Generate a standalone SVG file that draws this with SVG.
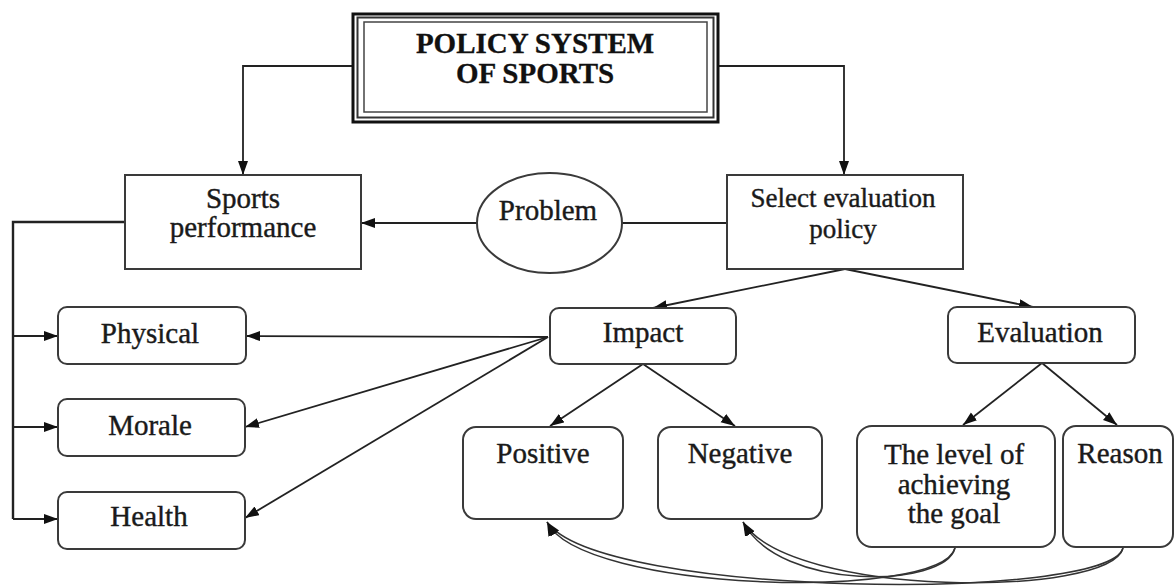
<svg xmlns="http://www.w3.org/2000/svg" width="1175" height="587" viewBox="0 0 1175 587">
<defs>
<marker id="ah" markerWidth="15" markerHeight="11" refX="14" refY="5" orient="auto" markerUnits="userSpaceOnUse">
<path d="M0,0 L14,5 L0,10 z" fill="#111"/>
</marker>
<style>
.box{fill:#fff;stroke:#3a3a3a;stroke-width:2}
.t{font-family:"Liberation Serif","Times New Roman",serif;font-size:29px;fill:#1a1a1a;stroke:#1a1a1a;stroke-width:0.4;text-anchor:middle}
.title{font-family:"Liberation Serif","Times New Roman",serif;font-size:29px;font-weight:bold;fill:#111;stroke:#111;stroke-width:0.3;text-anchor:middle}
.c{fill:none;stroke:#222;stroke-width:1.8}
.ca{fill:none;stroke:#222;stroke-width:1.8;marker-end:url(#ah)}
.cv{fill:none;stroke:#333;stroke-width:1.5;marker-end:url(#ah)}
</style>
</defs>
<rect width="1175" height="587" fill="#fff"/>

<g id="connectors">
<polyline class="ca" points="353,66 243,66 243,175"/>
<polyline class="ca" points="718,66 844,66 844,175"/>
<line class="c" x1="727" y1="223" x2="622" y2="223"/>
<line class="ca" x1="477" y1="223" x2="361" y2="223"/>
<polyline class="c" points="125,222 13,222 13,519" style="stroke-width:2.4"/>
<line class="ca" x1="13" y1="336" x2="58" y2="336"/>
<line class="ca" x1="13" y1="427" x2="58" y2="427"/>
<line class="ca" x1="13" y1="519" x2="58" y2="519"/>
<line class="ca" x1="548" y1="337" x2="246" y2="336"/>
<line class="ca" x1="548" y1="337" x2="245" y2="427"/>
<line class="ca" x1="548" y1="337" x2="245" y2="518"/>
<line class="ca" x1="845" y1="269" x2="653" y2="308"/>
<line class="ca" x1="845" y1="269" x2="1033" y2="307"/>
<line class="ca" x1="643" y1="364" x2="550" y2="426"/>
<line class="ca" x1="643" y1="364" x2="735" y2="426"/>
<line class="ca" x1="1042" y1="363" x2="963" y2="425"/>
<line class="ca" x1="1042" y1="363" x2="1117" y2="425"/>
<path class="cv" d="M955,548 C940,602 580,592 547,522"/>
<path class="cv" d="M1123,548 C1110,602 600,598 547,522"/>
<path class="cv" d="M955,548 C945,588 780,592 743,522"/>
<path class="cv" d="M1123,548 C1110,598 790,598 743,522"/>
</g>

<g id="title">
<rect x="353" y="14" width="365" height="108" fill="#fff" stroke="#111" stroke-width="3"/>
<rect x="357.5" y="17.5" width="356" height="100" fill="none" stroke="#333" stroke-width="2"/>
<rect x="364" y="22" width="343" height="90" fill="none" stroke="#444" stroke-width="1.5"/>
<text class="title" x="535" y="53">POLICY SYSTEM</text>
<text class="title" x="535" y="83">OF SPORTS</text>
</g>

<g id="sports-performance">
<rect class="box" x="125" y="175" width="236" height="94"/>
<text class="t" x="243" y="208">Sports</text>
<text class="t" x="243" y="237">performance</text>
</g>

<g id="problem">
<ellipse class="box" cx="549.5" cy="223" rx="72.5" ry="50"/>
<text class="t" x="548" y="220">Problem</text>
</g>

<g id="select-evaluation">
<rect class="box" x="727" y="175" width="236" height="94"/>
<text class="t" x="843" y="207" style="font-size:27px">Select evaluation</text>
<text class="t" x="843" y="238" style="font-size:27px">policy</text>
</g>

<g id="physical">
<rect class="box" x="58" y="307" width="188" height="57" rx="9"/>
<text class="t" x="150" y="343">Physical</text>
</g>

<g id="morale">
<rect class="box" x="58" y="399" width="187" height="57" rx="9"/>
<text class="t" x="150" y="435">Morale</text>
</g>

<g id="health">
<rect class="box" x="58" y="492" width="187" height="57" rx="9"/>
<text class="t" x="149" y="526">Health</text>
</g>

<g id="impact">
<rect class="box" x="550" y="308" width="186" height="56" rx="9"/>
<text class="t" x="643" y="342">Impact</text>
</g>

<g id="evaluation">
<rect class="box" x="948" y="307" width="187" height="56" rx="9"/>
<text class="t" x="1040" y="342">Evaluation</text>
</g>

<g id="positive">
<rect class="box" x="463" y="427" width="160" height="92" rx="13"/>
<text class="t" x="543" y="463">Positive</text>
</g>

<g id="negative">
<rect class="box" x="658" y="427" width="164" height="92" rx="13"/>
<text class="t" x="740" y="463">Negative</text>
</g>

<g id="level">
<rect class="box" x="857" y="426" width="198" height="121" rx="15"/>
<text class="t" x="954" y="464">The level of</text>
<text class="t" x="954" y="494">achieving</text>
<text class="t" x="954" y="523">the goal</text>
</g>

<g id="reason">
<rect class="box" x="1063" y="426" width="110" height="121" rx="13"/>
<text class="t" x="1120" y="463">Reason</text>
</g>
</svg>
